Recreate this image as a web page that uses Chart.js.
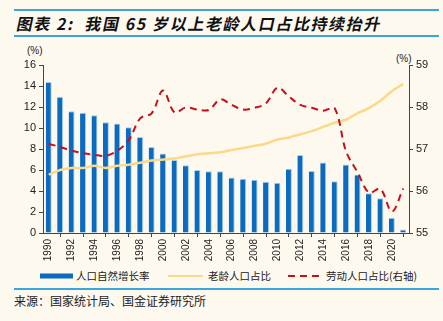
<!DOCTYPE html>
<html>
<head>
<meta charset="utf-8">
<script src="https://cdn.jsdelivr.net/npm/chart.js@4.4.0/dist/chart.umd.min.js"></script>
<style>
  html, body { margin: 0; padding: 0; background: #fdf9ef; }
  #wrap { position: relative; width: 443px; height: 321px; background: #fdf9ef; overflow: hidden;
          font-family: "Liberation Sans", Arial, sans-serif; }
  .rule { position: absolute; left: 14px; width: 425px; height: 2px; background: #3aa6de; }
  #title { position: absolute; left: 15px; top: 13px; font-family: "Noto Sans CJK SC", sans-serif;
           font-weight: bold; font-size: 16px; line-height: 20px; color: #111; transform: skewX(-12deg);
           transform-origin: left bottom; white-space: nowrap; letter-spacing: 1.6px; }
  #chartBox { position: absolute; left: 0; top: 40px; width: 443px; height: 226px; }
  .unit { position: absolute; font-size: 10px; color: #222; }
  #legend { position: absolute; left: 40px; top: 269px; font-family: "Noto Sans CJK SC", sans-serif;
            font-size: 10.5px; color: #222; white-space: nowrap; }
  #legend span.item { position: absolute; top: 0; line-height: 14px; }
  #legend svg { position: absolute; top: 0; }
  #source { position: absolute; left: 14px; top: 292px; font-family: "Noto Sans CJK SC", sans-serif;
            font-size: 12px; color: #222; white-space: nowrap; }
</style>
</head>
<body>
<div id="wrap">
  <div class="rule" style="top:9px"></div>
  <div id="title">图表 2:&nbsp; 我国 65 岁以上老龄人口占比持续抬升</div>
  <div class="rule" style="top:35px"></div>
  <div class="unit" style="left:27px; top:45px">(%)</div>
  <div class="unit" style="left:396px; top:53px">(%)</div>
  <div id="chartBox"><canvas id="comboChart" width="443" height="226"></canvas></div>
  <div id="legend">
    <svg width="34" height="14" style="left:0"><rect x="0" y="4.5" width="33" height="5" fill="#0a6cc0"/></svg>
    <span class="item" style="left:36px">人口自然增长率</span>
    <svg width="36" height="14" style="left:128px"><line x1="0" y1="7" x2="35" y2="7" stroke="#fbd98a" stroke-width="2"/></svg>
    <span class="item" style="left:168px">老龄人口占比</span>
    <svg width="36" height="14" style="left:248px"><line x1="0" y1="7" x2="35" y2="7" stroke="#c8101a" stroke-width="2" stroke-dasharray="7,5"/></svg>
    <span class="item" style="left:286px">劳动人口占比(右轴)</span>
  </div>
  <div class="rule" style="top:288px; height:2px"></div>
  <div id="source">来源：国家统计局、国金证券研究所</div>
</div>
<script>
const years = ['1990','1991','1992','1993','1994','1995','1996','1997','1998','1999',
  '2000','2001','2002','2003','2004','2005','2006','2007','2008','2009',
  '2010','2011','2012','2013','2014','2015','2016','2017','2018','2019','2020','2021'];

// 人口自然增长率
const naturalGrowth = [14.39, 12.98, 11.60, 11.45, 11.21, 10.55, 10.42, 10.06, 9.14, 8.18,
  7.58, 6.95, 6.45, 6.01, 5.87, 5.89, 5.28, 5.17, 5.08, 4.87,
  4.79, 6.13, 7.43, 5.90, 6.71, 4.93, 6.53, 5.58, 3.78, 3.32, 1.45, 0.34];

// 老龄人口占比 (left axis)
const elderlyShare = [5.57, 6.0, 6.2, 6.2, 6.4, 6.2, 6.4, 6.5, 6.7, 6.9,
  7.0, 7.1, 7.3, 7.5, 7.6, 7.7, 7.9, 8.1, 8.3, 8.5,
  8.9, 9.1, 9.4, 9.7, 10.1, 10.5, 10.8, 11.4, 11.9, 12.6, 13.5, 14.2];

// 劳动人口占比 (right axis)
const laborShare = [57.12, 57.05, 56.96, 56.90, 56.86, 56.84, 56.96, 57.21, 57.73, 57.85,
  58.39, 57.87, 57.99, 57.94, 57.93, 58.18, 58.05, 57.94, 57.98, 58.09,
  58.46, 58.25, 58.05, 57.98, 57.91, 57.97, 56.94, 56.45, 55.96, 56.05, 55.51, 56.06];

const axisColor = '#444';
const tickFont = { family: 'Liberation Sans, Arial, sans-serif', size: 11 };

const ctx = document.getElementById('comboChart').getContext('2d');
new Chart(ctx, {
  data: {
    labels: years,
    datasets: [
      {
        type: 'line',
        label: '劳动人口占比(右轴)',
        data: laborShare,
        yAxisID: 'yRight',
        borderColor: '#c8101a',
        borderWidth: 2,
        borderDash: [7, 5],
        pointRadius: 0,
        tension: 0.35,
        order: 0
      },
      {
        type: 'line',
        label: '老龄人口占比',
        data: elderlyShare,
        yAxisID: 'y',
        borderColor: '#fbd98a',
        borderWidth: 2.5,
        pointRadius: 0,
        tension: 0.3,
        order: 1
      },
      {
        type: 'bar',
        label: '人口自然增长率',
        data: naturalGrowth,
        yAxisID: 'y',
        backgroundColor: '#0a6cc0',
        borderColor: '#a6cbec',
        borderWidth: { top: 1, right: 1, left: 0, bottom: 0 },
        borderSkipped: false,
        barPercentage: 0.52,
        categoryPercentage: 1.0,
        order: 2
      }
    ]
  },
  options: {
    responsive: false,
    animation: false,
    layout: { padding: { top: 25, left: 0, right: 0, bottom: 0 } },
    plugins: {
      legend: { display: false },
      tooltip: { enabled: false }
    },
    scales: {
      x: {
        offset: true,
        border: { color: axisColor, width: 1 },
        grid: { display: true, drawOnChartArea: false, drawTicks: true, tickLength: 4, color: axisColor, offset: true },
        ticks: {
          autoSkip: false,
          maxRotation: 90,
          minRotation: 90,
          padding: 2,
          color: '#222',
          font: { family: 'Liberation Sans, Arial, sans-serif', size: 10 },
          // label every other year
          callback: function (val, i) { return i % 2 === 0 ? this.getLabelForValue(val) : null; }
        },
        afterFit: function (scale) { scale.height = 33; }
      },
      y: {
        position: 'left',
        min: 0,
        max: 16,
        border: { color: axisColor, width: 1 },
        grid: { drawOnChartArea: false, drawTicks: true, tickLength: 4, color: axisColor },
        ticks: { stepSize: 2, color: '#222', font: tickFont, padding: 3 },
        afterFit: function (scale) { scale.width = 43; }
      },
      yRight: {
        position: 'right',
        min: 55,
        max: 59,
        border: { color: axisColor, width: 1 },
        grid: { drawOnChartArea: false, drawTicks: true, tickLength: 4, color: axisColor },
        ticks: { stepSize: 1, color: '#222', font: tickFont, padding: 3 },
        afterFit: function (scale) { scale.width = 34; }
      }
    }
  }
});
</script>
</body>
</html>
